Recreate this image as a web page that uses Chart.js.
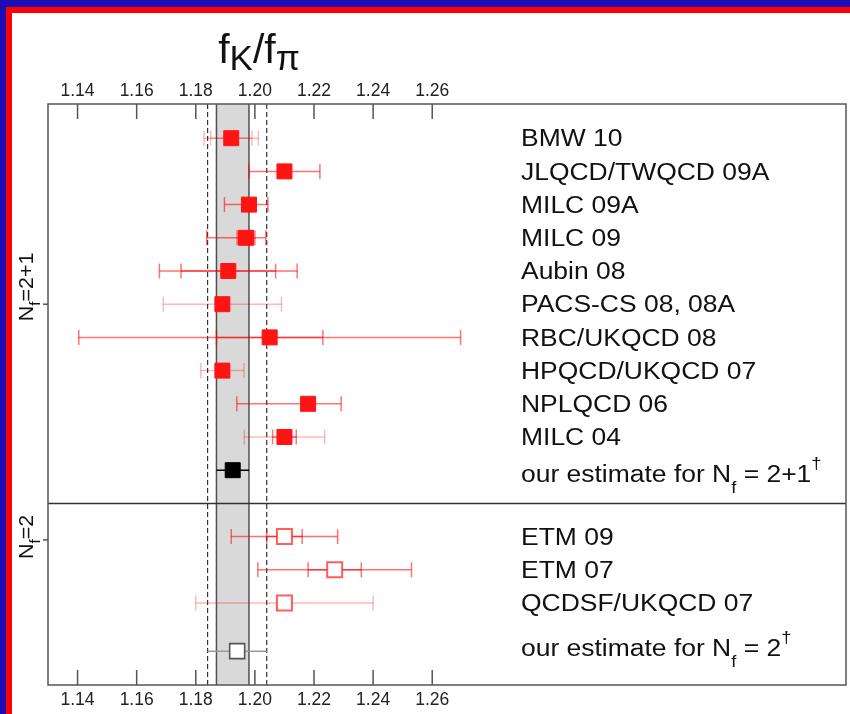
<!DOCTYPE html>
<html>
<head>
<meta charset="utf-8">
<script src="https://cdn.jsdelivr.net/npm/chart.js@4.4.0/dist/chart.umd.min.js"></script>
<style>
  html, body { margin: 0; padding: 0; background: #fff; }
  #wrap { width: 850px; height: 714px; position: relative; }
  canvas { display: block; }
</style>
</head>
<body>
<div id="wrap"><canvas id="chart" width="850" height="714"></canvas></div>
<script>
// ---- data: f_K / f_pi ----
const xTickValues = [1.14, 1.16, 1.18, 1.20, 1.22, 1.24, 1.26];

// N_f = 2+1 results
const nf21Studies = ['BMW 10', 'JLQCD/TWQCD 09A', 'MILC 09A', 'MILC 09', 'Aubin 08',
                     'PACS-CS 08, 08A', 'RBC/UKQCD 08', 'HPQCD/UKQCD 07', 'NPLQCD 06', 'MILC 04'];
const nf21Central = [1.192, 1.210, 1.198, 1.197, 1.191, 1.189, 1.205, 1.189, 1.218, 1.210];
const nf21Stat    = [0.007, null, 0.002, 0.003, 0.016, null, 0.018, 0.002, 0.002, 0.004];
const nf21TotLo   = [0.0092, 0.012, 0.0083, 0.0133, 0.0233, 0.020, 0.0646, 0.0073, 0.0241, 0.0136];
const nf21TotHi   = [0.0092, 0.012, 0.0064, 0.0067, 0.0233, 0.020, 0.0646, 0.0073, 0.0112, 0.0136];

// N_f = 2 results
const nf2Studies = ['ETM 09', 'ETM 07', 'QCDSF/UKQCD 07'];
const nf2Central = [1.210, 1.227, 1.210];
const nf2Stat    = [0.006, 0.009, null];
const nf2Tot     = [0.018, 0.026, 0.030];

// averages (2+1 and 2)
const estimateCentral = [1.1925, 1.194];
const estimateErr     = [0.0055, 0.010];

// ---- styling ----
const RED_MED  = 'rgba(255,0,0,0.55)';
const RED_PALE = 'rgba(255,0,0,0.28)';
const nf21OuterShade = [RED_PALE, RED_MED, RED_MED, RED_MED, RED_MED, RED_PALE, RED_MED, RED_PALE, RED_MED, RED_PALE];
const nf21InnerShade = [RED_PALE, RED_MED, RED_MED, RED_MED, RED_MED, RED_PALE, RED_MED, RED_PALE, RED_MED, RED_MED];
const nf2Shade = [RED_MED, RED_MED, RED_PALE];
const FAMILY = "'Liberation Sans', Arial, sans-serif";
const SX = 1.15;            // horizontal stretch of the study labels

// row layout on the (reversed) y scale
const nf21Rows = nf21Studies.map((_, i) => i + 1);
const est21Row = nf21Studies.length + 1;
const separatorRow = est21Row + 1;
const nf2Rows = nf2Studies.map((_, i) => separatorRow + 1 + i);
const est2Row = nf2Rows[nf2Rows.length - 1] + 1.45;
const groupTickRows = [6, 13.1];

// ---- datasets ----
const datasets = [];
function errBar(lo, hi, y, color) {
  datasets.push({
    data: [{x: lo, y}, {x: hi, y}],
    showLine: true, borderColor: color, borderWidth: 1.5,
    pointStyle: 'line', pointRotation: 90, pointRadius: 7.5, pointHoverRadius: 7.5,
    pointBorderColor: color, pointBorderWidth: 1.5, order: 2
  });
}
function marker(x, y, fill, stroke, bw) {
  datasets.push({
    data: [{x, y}], showLine: false,
    pointStyle: 'rect', pointRadius: 10.6, pointHoverRadius: 10.6,
    pointBackgroundColor: fill, pointBorderColor: stroke, pointBorderWidth: bw, order: 0
  });
}

nf21Central.forEach((c, i) => {
  const y = nf21Rows[i];
  errBar(c - nf21TotLo[i], c + nf21TotHi[i], y, nf21OuterShade[i]);
  if (nf21Stat[i] !== null) errBar(c - nf21Stat[i], c + nf21Stat[i], y, nf21InnerShade[i]);
  marker(c, y, '#ff1414', '#ff1414', 1);
});
errBar(estimateCentral[0] - estimateErr[0], estimateCentral[0] + estimateErr[0], est21Row, '#000');
datasets[datasets.length - 1].pointRadius = 0;
marker(estimateCentral[0], est21Row, '#000', '#000', 1);

nf2Central.forEach((c, i) => {
  const y = nf2Rows[i];
  errBar(c - nf2Tot[i], c + nf2Tot[i], y, nf2Shade[i]);
  if (nf2Stat[i] !== null) errBar(c - nf2Stat[i], c + nf2Stat[i], y, nf2Shade[i]);
  marker(c, y, '#fff', 'rgba(255,40,40,0.75)', 2);
});
errBar(estimateCentral[1] - estimateErr[1], estimateCentral[1] + estimateErr[1], est2Row, '#999');
datasets[datasets.length - 1].pointRadius = 0;
marker(estimateCentral[1], est2Row, '#fff', '#555', 1.6);

// ---- text helpers ----
function drawRuns(ctx, x, yBase, runs, sx) {
  let cx = x;
  for (const r of runs) {
    ctx.font = `${r.size}px ${FAMILY}`;
    ctx.save();
    ctx.translate(cx, yBase + (r.dy || 0));
    ctx.scale(sx, 1);
    ctx.fillText(r.t, 0, 0);
    ctx.restore();
    cx += ctx.measureText(r.t).width * sx;
  }
  return cx - x;
}
function runsWidth(ctx, runs, sx) {
  let w = 0;
  for (const r of runs) { ctx.font = `${r.size}px ${FAMILY}`; w += ctx.measureText(r.t).width * sx; }
  return w;
}

// ---- plugin: frame, band, ticks, labels ----
const decor = {
  id: 'decor',
  beforeDraw(chart) {
    const ctx = chart.ctx;
    ctx.save();
    ctx.fillStyle = '#fff';
    ctx.fillRect(0, 0, chart.width, chart.height);
    ctx.fillStyle = '#1c0cb4';
    ctx.fillRect(0, 0, chart.width, 7);
    ctx.fillRect(0, 0, 6, chart.height);
    ctx.fillStyle = '#ff0000';
    ctx.fillRect(6, 7, chart.width - 6, 6);
    ctx.fillRect(6, 7, 6, chart.height - 7);
    ctx.restore();
  },
  beforeDatasetsDraw(chart) {
    const {ctx, chartArea: a, scales: {x, y}} = chart;
    ctx.save();
    // band of the 2+1 average
    const b0 = x.getPixelForValue(estimateCentral[0] - estimateErr[0]);
    const b1 = x.getPixelForValue(estimateCentral[0] + estimateErr[0]);
    ctx.fillStyle = '#d9d9d9';
    ctx.fillRect(b0, a.top, b1 - b0, a.bottom - a.top);
    ctx.strokeStyle = '#505050';
    ctx.lineWidth = 1.5;
    [b0, b1].forEach(px => { ctx.beginPath(); ctx.moveTo(px, a.top); ctx.lineTo(px, a.bottom); ctx.stroke(); });
    // dashed lines of the 2-flavour average
    ctx.strokeStyle = '#333';
    ctx.lineWidth = 1.2;
    ctx.setLineDash([5, 3]);
    [estimateCentral[1] - estimateErr[1], estimateCentral[1] + estimateErr[1]].forEach(v => {
      const px = x.getPixelForValue(v);
      ctx.beginPath(); ctx.moveTo(px, a.top); ctx.lineTo(px, a.bottom); ctx.stroke();
    });
    ctx.setLineDash([]);
    // separator between the two groups
    const sy = y.getPixelForValue(separatorRow);
    ctx.strokeStyle = '#333';
    ctx.lineWidth = 1.5;
    ctx.beginPath(); ctx.moveTo(a.left, sy); ctx.lineTo(a.right, sy); ctx.stroke();
    ctx.restore();
  },
  afterDraw(chart) {
    const {ctx, chartArea: a, scales: {x, y}} = chart;
    ctx.save();
    // box
    ctx.strokeStyle = '#555';
    ctx.lineWidth = 1.5;
    ctx.strokeRect(a.left, a.top, a.right - a.left, a.bottom - a.top);
    // inward ticks
    xTickValues.forEach(v => {
      const px = x.getPixelForValue(v);
      ctx.beginPath(); ctx.moveTo(px, a.top); ctx.lineTo(px, a.top + 15); ctx.stroke();
      ctx.beginPath(); ctx.moveTo(px, a.bottom); ctx.lineTo(px, a.bottom - 15); ctx.stroke();
    });
    groupTickRows.forEach(r => {
      const py = y.getPixelForValue(r);
      ctx.beginPath(); ctx.moveTo(a.left - 5, py); ctx.lineTo(a.left, py); ctx.stroke();
    });

    ctx.fillStyle = '#111';
    ctx.textAlign = 'left';
    ctx.textBaseline = 'alphabetic';
    // study labels
    const lx = 521;
    const capOff = 0.358 * 23;
    nf21Studies.forEach((s, i) => {
      drawRuns(ctx, lx, y.getPixelForValue(nf21Rows[i]) + capOff, [{t: s, size: 23}], SX);
    });
    nf2Studies.forEach((s, i) => {
      drawRuns(ctx, lx, y.getPixelForValue(nf2Rows[i]) + capOff, [{t: s, size: 23}], SX);
    });
    drawRuns(ctx, lx, y.getPixelForValue(est21Row) + capOff + 4, [
      {t: 'our estimate for N', size: 23}, {t: 'f', size: 16, dy: 11},
      {t: ' = 2+1', size: 23}, {t: '\u2020', size: 16, dy: -13}], SX);
    drawRuns(ctx, lx, y.getPixelForValue(est2Row) + capOff - 3, [
      {t: 'our estimate for N', size: 23}, {t: 'f', size: 16, dy: 11},
      {t: ' = 2', size: 23}, {t: '\u2020', size: 16, dy: -13}], SX);

    // group labels, rotated
    [['2+1', 287], ['2', 537]].forEach(([n, cy]) => {
      const runs = [{t: 'N', size: 19.5}, {t: 'f', size: 14, dy: 7}, {t: '=' + n, size: 19.5}];
      ctx.save();
      ctx.translate(33, cy);
      ctx.rotate(-Math.PI / 2);
      const w = runsWidth(ctx, runs, 1.1);
      drawRuns(ctx, -w / 2, 0, runs, 1.1);
      ctx.restore();
    });

    // title
    const titleRuns = [{t: 'f', size: 41}, {t: 'K', size: 35, dy: 7}, {t: '/', size: 41},
                       {t: 'f', size: 41}, {t: '\u03c0', size: 35, dy: 7}];
    const tw = runsWidth(ctx, titleRuns, 1);
    drawRuns(ctx, 259 - tw / 2, 63, titleRuns, 1);
    ctx.restore();
  }
};

const tickFont = {family: FAMILY, size: 17.5};
const xRange = {min: 1.13, max: 1.40};
function fixHeight(h) {
  return s => { s.height = h; s.paddingLeft = 0; s.paddingRight = 0; };
}

new Chart(document.getElementById('chart'), {
  type: 'scatter',
  data: {datasets},
  options: {
    responsive: false,
    animation: false,
    devicePixelRatio: 1,
    events: [],
    layout: {autoPadding: false, padding: {left: 48, right: 4, top: 0, bottom: 0}},
    plugins: {legend: {display: false}, tooltip: {enabled: false}},
    scales: {
      x: {
        type: 'linear', position: 'bottom', ...xRange,
        afterBuildTicks: s => { s.ticks = xTickValues.map(v => ({value: v})); },
        afterFit: fixHeight(29),
        grid: {display: false, drawTicks: false}, border: {display: false},
        ticks: {font: tickFont, color: '#222', padding: 4.5, maxRotation: 0,
                callback: v => v.toFixed(2)}
      },
      xTop: {
        type: 'linear', position: 'top', ...xRange,
        afterBuildTicks: s => { s.ticks = xTickValues.map(v => ({value: v})); },
        afterFit: fixHeight(104),
        grid: {display: false, drawTicks: false}, border: {display: false},
        ticks: {font: tickFont, color: '#222', padding: 2, maxRotation: 0,
                callback: v => v.toFixed(2)}
      },
      y: {
        type: 'linear', reverse: true, min: -0.03, max: 17.47, display: false,
        afterFit: s => { s.width = 0; s.paddingTop = 0; s.paddingBottom = 0; }
      }
    }
  },
  plugins: [decor]
});
</script>
</body>
</html>
